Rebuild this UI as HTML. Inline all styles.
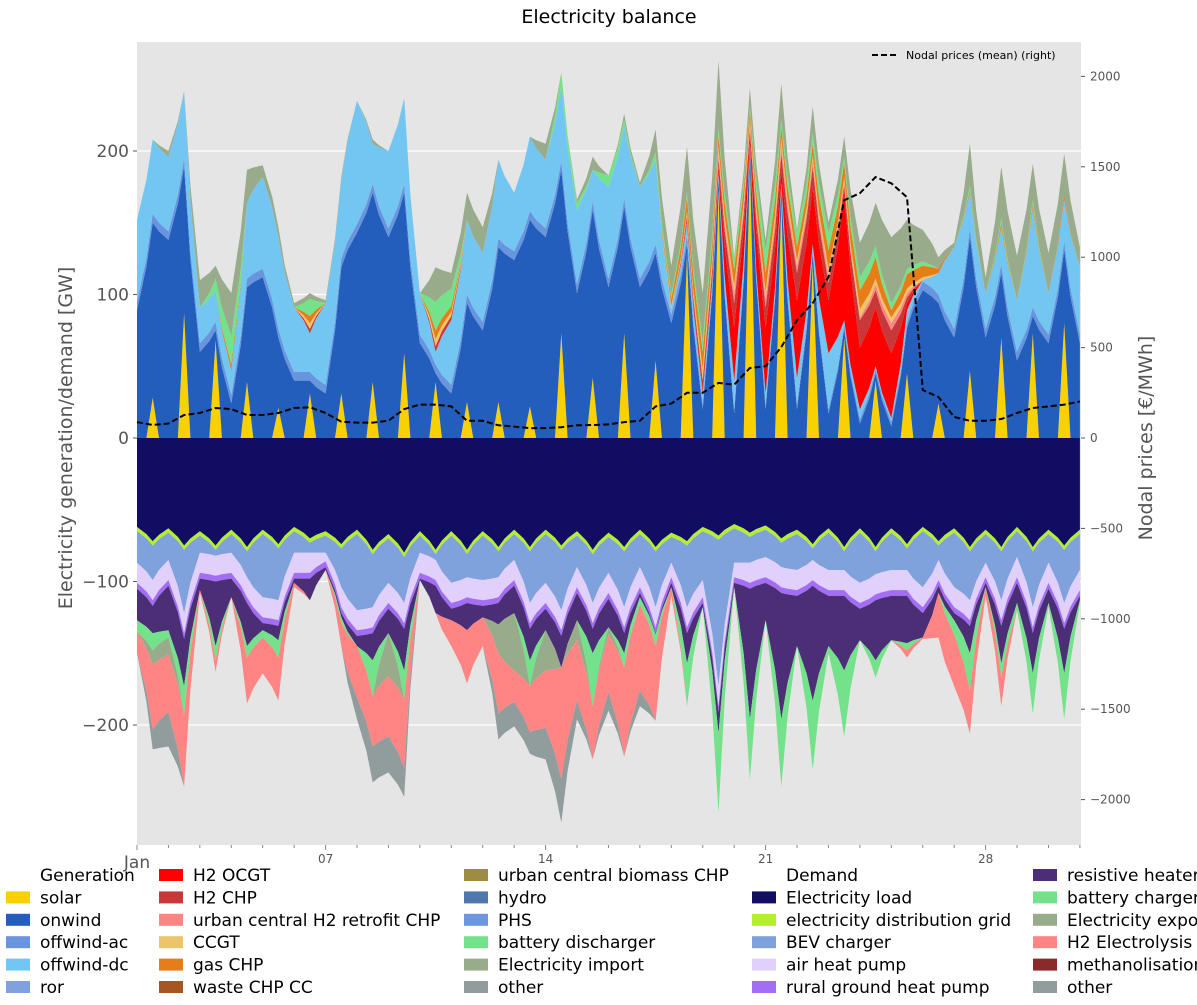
<!DOCTYPE html>
<html><head><meta charset="utf-8">
<style>
html,body{margin:0;padding:0;background:#fff;}
svg{display:block;font-family:"DejaVu Sans","Liberation Sans",sans-serif;}
</style></head>
<body>
<svg id="chart" width="1197" height="1005" viewBox="0 0 1197 1005">
<rect x="137" y="42" width="944" height="803" fill="#e5e5e5"/>
<g id="grid"></g>
<g id="areas"></g>
<g id="priceg"></g>
<g id="axes"></g>
<text x="609" y="23" text-anchor="middle" font-size="19" fill="#000">Electricity balance</text>
<text transform="translate(72,438) rotate(-90)" text-anchor="middle" font-size="19" fill="#555">Electricity generation/demand [GW]</text>
<text transform="translate(1152,438) rotate(-90)" text-anchor="middle" font-size="19" fill="#555">Nodal prices [€/MWh]</text>
<g>
<line x1="872" y1="55" x2="898" y2="55" stroke="#000" stroke-width="2" stroke-dasharray="6,3"/>
<text x="906" y="59" font-size="11" fill="#000">Nodal prices (mean) (right)</text>
</g>
<g id="legend" font-size="17" fill="#000"></g>
</svg>
<script>
const solar=[0,28,0,87,0,68,0,39,0,21,0,31,0,31,0,39,0,59,0,39,0,25,0,25,0,22,0,73,0,42,0,73,0,54,0,129,0,173,0,194,0,166,0,122,0,70,0,40,0,45,0,24,0,47,0,70,0,73,0,80,0];
const onwind=[89,122,138,102,60,7,24,66,112,49,40,9,31,88,143,132,140,112,66,6,31,69,75,108,124,130,140,114,101,117,105,88,105,75,80,6,20,7,17,6,20,6,20,6,17,6,10,5,8,32,103,70,70,93,70,45,54,12,66,51,66];
const offwindAc=[6,6,6,6,6,6,6,6,6,6,6,6,6,6,6,6,6,6,6,6,6,6,6,6,6,6,6,6,6,6,6,6,6,6,6,6,3,3,3,3,3,3,3,3,3,3,3,3,3,3,6,6,6,6,6,6,6,6,6,6,6];
const offwindDc=[57,52,52,47,25,22,17,53,64,64,45,27,57,55,86,28,54,60,29,9,45,52,48,55,41,52,48,52,52,22,64,50,64,59,4,9,8,2,20,2,8,3,19,4,39,3,7,2,3,9,1,15,57,25,25,26,36,69,29,29,47];
const h2Ocgt=[0,0,0,0,0,0,0,0,0,0,0,0,0,0,0,0,0,0,0,0,0,0,0,0,0,0,0,0,0,0,0,0,0,0,0,2,2,5,37,5,46,8,54,40,37,89,43,41,45,5,0,0,0,0,0,0,0,0,0,0,0];
const h2Chp=[0,0,0,0,0,0,0,0,0,0,0,3,0,0,0,0,0,0,0,4,3,0,0,0,0,0,0,0,0,0,0,0,0,0,0,3,7,5,17,5,14,12,19,14,12,5,19,12,16,4,0,0,0,0,0,0,0,0,0,0,0];
const h2Retro=[0,0,0,0,0,0,0,0,0,0,0,0,0,0,0,0,0,0,0,0,0,0,0,0,0,0,0,0,0,0,0,0,0,0,0,0,1,3,7,3,6,6,5,4,5,3,2,4,5,3,0,0,0,0,0,0,0,0,0,0,0];
const ccgt=[0,0,0,0,0,0,0,0,0,0,0,4,0,0,0,0,0,0,0,5,3,0,0,0,0,0,0,0,0,0,0,0,0,0,2,3,7,5,5,4,5,5,4,4,5,3,6,4,4,3,2,0,0,0,0,0,0,0,0,0,0];
const gasChp=[0,0,0,0,0,0,4,0,0,0,0,5,0,0,0,0,0,0,0,6,4,0,0,0,0,0,0,0,0,0,0,0,0,0,5,10,12,8,11,6,13,8,9,8,13,10,13,15,5,10,8,3,0,2,0,3,0,3,0,3,0];
const batteryDis=[0,0,0,0,0,8,20,0,0,0,0,12,0,0,0,0,0,0,0,20,12,0,0,0,0,0,0,10,5,0,8,5,0,5,3,3,7,5,7,3,16,5,10,8,12,4,9,8,5,4,3,0,0,3,0,3,0,3,0,0,0];
const elecImport=[0,0,4,0,19,9,30,23,8,7,3,4,2,2,0,3,0,0,0,24,11,19,18,0,0,0,11,0,2,9,0,4,3,16,20,32,34,47,2,13,7,25,2,18,7,14,24,30,46,34,22,8,3,29,11,36,31,25,28,29,14];

const load=[62,72,63,75,65,75,64,76,64,74,62,70,65,74,64,78,67,80,65,78,65,78,65,76,64,76,64,75,65,78,66,76,64,76,66,72,62,68,60,66,61,70,64,74,63,76,63,76,63,74,62,72,63,76,64,76,62,76,64,75,64];
const distGrid=[3,3,3,3,3,3,3,3,3,3,3,3,3,3,3,3,3,3,3,3,3,3,3,3,3,3,3,3,3,3,3,3,3,3,3,3,3,3,3,3,3,3,3,3,3,3,3,3,3,3,3,3,3,3,3,3,3,3,3,3,3];
const bev=[22,24,19,44,12,4,13,18,44,36,15,7,12,27,53,37,31,32,12,4,33,16,31,18,18,36,34,42,22,34,25,39,23,39,18,43,34,102,24,18,19,17,25,8,26,13,35,16,26,15,39,10,38,34,20,34,18,39,20,37,25];
const airHp=[14,14,14,14,14,14,14,14,14,14,14,14,6,14,14,14,14,14,14,14,14,14,14,14,14,14,14,14,14,14,14,14,14,14,10,14,12,14,10,14,14,14,14,14,14,14,14,14,14,14,14,14,14,14,10,14,14,14,14,14,14];
const ruralHp=[4,4,4,4,4,4,4,4,4,4,4,4,4,4,4,4,4,4,4,4,4,4,4,4,4,4,4,4,4,4,4,4,4,4,4,4,4,4,4,4,4,4,4,4,4,4,4,4,4,4,4,4,4,4,4,4,4,4,4,4,4];
const resistive=[22,19,31,33,8,45,13,30,5,10,3,15,2,3,7,19,17,29,1,19,8,19,8,15,19,22,15,22,19,17,20,14,3,1,3,21,3,15,3,91,26,88,35,80,35,52,22,42,31,33,17,5,5,19,3,26,14,28,10,31,3];
const batteryChg=[8,12,5,20,0,10,0,8,5,12,0,0,0,4,0,25,0,20,0,0,0,0,0,0,0,18,0,0,0,37,0,10,5,8,0,30,0,55,0,42,0,47,0,48,5,46,0,12,0,5,0,0,10,26,0,10,5,28,3,32,2];
const elecExport=[0,10,12,0,0,0,0,0,0,0,0,0,0,0,0,0,30,0,0,0,0,0,0,20,40,0,28,0,14,0,5,0,0,0,0,0,0,0,0,0,0,0,0,0,0,0,0,0,0,0,0,0,0,0,0,0,0,0,0,0,0];
const h2Elec=[15,45,40,50,2,8,0,32,25,30,3,0,0,16,36,35,42,48,0,0,18,37,20,42,22,32,40,78,42,37,40,62,60,52,6,0,0,0,0,0,0,0,0,0,0,0,0,0,0,5,1,31,36,30,6,20,0,0,0,0,0];
const otherDem=[0,14,24,0,0,0,0,0,0,0,0,0,0,0,15,25,25,20,0,0,0,0,0,18,17,15,22,30,13,0,13,0,11,0,0,0,0,0,0,0,0,0,0,0,0,0,0,0,0,0,0,0,0,0,0,0,0,0,0,0,0];

const prices=[88,72,80,127,138,166,160,127,127,138,166,170,138,90,85,85,95,160,185,185,175,95,95,70,63,55,55,60,70,72,75,88,95,175,190,250,250,305,295,387,397,503,652,746,890,1315,1354,1443,1409,1332,265,227,116,95,95,105,138,166,175,185,202];

const leftTicks=[200,100,0,-100,-200];
const rightTicks=[2000,1500,1000,500,0,-500,-1000,-1500,-2000];
const xTickLabels=["Jan","07","14","21","28"];
const xTickDays=[0,6,13,20,27];

const NS="http://www.w3.org/2000/svg";
const X0=137,DAY=31.43,Y0=438,KL=1.435,KR=0.1808;
function xS(t){return X0+t*DAY;}
function yL(v){return Y0-v*KL;}
function yR(p){return Y0-p*KR;}
function mk(tag,attrs,parent){const e=document.createElementNS(NS,tag);for(const k in attrs)e.setAttribute(k,attrs[k]);parent.appendChild(e);return e;}
const N=load.length;

// render sample points: each data point, plus narrow shoulders around noon samples so solar spikes stay narrow
const HW=0.2;
const samples=[]; // {t, i, j, f, shoulder}
for(let i=0;i<N;i++){
  const t=i*0.5;
  if(i%2===1){
    samples.push({t:t-HW,a:i-1,b:i,sh:true});
    samples.push({t:t,a:i,b:i,sh:false});
    if(i+1<N)samples.push({t:t+HW,a:i+1,b:i,sh:true});
  } else samples.push({t:t,a:i,b:i,sh:false});
}
function sampleVal(arr,s,isSolar,isOn){
  if(!s.sh)return arr[s.a];
  if(isSolar)return 0;
  if(isOn)return (arr[s.a]+arr[s.b]+solar[s.b]+solar[s.a])/2;
  return (arr[s.a]+arr[s.b])/2;
}

const grid=document.getElementById('grid');
leftTicks.forEach(v=>{
  const l=mk('line',{x1:137,x2:1081,y1:yL(v),y2:yL(v),stroke:'#fff','stroke-width':1.2},grid);
  
  
});

const areas=document.getElementById('areas');
function stack(list,sign){
  const M=samples.length;
  let base=new Array(M).fill(0);
  list.forEach(s=>{
    const vals=samples.map(sm=>sampleVal(s.vals,sm,s.vals===solar,s.vals===onwind));
    const top=base.map((b,k)=>b+vals[k]);
    let d='';
    for(let k=0;k<M;k++)d+=(k?'L':'M')+xS(samples[k].t).toFixed(1)+','+yL(sign*top[k]).toFixed(1);
    for(let k=M-1;k>=0;k--)d+='L'+xS(samples[k].t).toFixed(1)+','+yL(sign*base[k]).toFixed(1);
    d+='Z';
    const p=mk('path',{d:d,fill:s.c},areas);
    
    
    base=top;
  });
}
stack([
 {n:'solar',vals:solar,c:'#f9d002'},
 {n:'onwind',vals:onwind,c:'#235ebc'},
 {n:'offwind-ac',vals:offwindAc,c:'#6895dd'},
 {n:'offwind-dc',vals:offwindDc,c:'#74c6f2'},
 {n:'h2-ocgt',vals:h2Ocgt,c:'#ff0000'},
 {n:'h2-chp',vals:h2Chp,c:'#c83838'},
 {n:'h2-retrofit-chp',vals:h2Retro,c:'#ff8585'},
 {n:'ccgt',vals:ccgt,c:'#eec46a'},
 {n:'gas-chp',vals:gasChp,c:'#e67d17'},
 {n:'battery-discharger',vals:batteryDis,c:'#74e28a'},
 {n:'electricity-import',vals:elecImport,c:'#98ab8a'}
],1);
stack([
 {n:'electricity-load',vals:load,c:'#110d63'},
 {n:'distribution-grid',vals:distGrid,c:'#b3ee32'},
 {n:'bev-charger',vals:bev,c:'#7fa2dc'},
 {n:'air-heat-pump',vals:airHp,c:'#e0d0fb'},
 {n:'rural-ground-heat-pump',vals:ruralHp,c:'#a36ef5'},
 {n:'resistive-heater',vals:resistive,c:'#4b2e75'},
 {n:'battery-charger',vals:batteryChg,c:'#74e28a'},
 {n:'electricity-export',vals:elecExport,c:'#98ab8a'},
 {n:'h2-electrolysis',vals:h2Elec,c:'#ff8585'},
 {n:'other-demand',vals:otherDem,c:'#919c9c'}
],-1);

const pg=document.getElementById('priceg');
let pd='';
prices.forEach((p,i)=>{pd+=(i?'L':'M')+xS(i*0.5).toFixed(1)+','+yR(p).toFixed(1);});
const pl=mk('path',{d:pd,fill:'none',stroke:'#000','stroke-width':2,'stroke-dasharray':'6,3'},pg);



const ax=document.getElementById('axes');
leftTicks.forEach(v=>{
  const t=mk('text',{x:129,y:yL(v)+6,'text-anchor':'end','font-size':17,fill:'#555'},ax);
  t.textContent=String(v).replace('-','−');
  
  
  mk('line',{x1:133,x2:137,y1:yL(v),y2:yL(v),stroke:'#555'},ax);
});
rightTicks.forEach(v=>{
  const t=mk('text',{x:1090,y:yR(v)+4,'text-anchor':'start','font-size':12,fill:'#555'},ax);
  t.textContent=String(v).replace('-','−');
  
  
  mk('line',{x1:1081,x2:1085,y1:yR(v),y2:yR(v),stroke:'#555'},ax);
});
for(let d=0;d<=30;d++){mk('line',{x1:xS(d),x2:xS(d),y1:845,y2:d%7==6||d==0?850:848,stroke:'#888'},ax);}
xTickLabels.forEach((lab,k)=>{
  const t=mk('text',{x:xS(xTickDays[k]),y:k==0?868:863,'text-anchor':'middle','font-size':k==0?17:12,fill:'#555'},ax);
  t.textContent=lab;
  
  
});

const lg=document.getElementById('legend');
const cols=[
 {px:6,tx:40,items:[['Generation',null],['solar','#f9d002'],['onwind','#235ebc'],['offwind-ac','#6895dd'],['offwind-dc','#74c6f2'],['ror','#7fa2dc']]},
 {px:159,tx:193,items:[['H2 OCGT','#ff0000'],['H2 CHP','#c83838'],['urban central H2 retrofit CHP','#ff8585'],['CCGT','#eec46a'],['gas CHP','#e67d17'],['waste CHP CC','#a65523']]},
 {px:464,tx:498,items:[['urban central biomass CHP','#9e8c41'],['hydro','#5177ad'],['PHS','#6a97dd'],['battery discharger','#74e28a'],['Electricity import','#98ab8a'],['other','#919c9c']]},
 {px:752,tx:786,items:[['Demand',null],['Electricity load','#110d63'],['electricity distribution grid','#b3ee32'],['BEV charger','#7fa2dc'],['air heat pump','#e0d0fb'],['rural ground heat pump','#a36ef5']]},
 {px:1033,tx:1067,items:[['resistive heater','#4b2e75'],['battery charger','#74e28a'],['Electricity export','#98ab8a'],['H2 Electrolysis','#ff8585'],['methanolisation','#8b2a2a'],['other','#919c9c']]}
];
cols.forEach(c=>{
  c.items.forEach((it,r)=>{
    const cy=875+r*22.4;
    const g=mk('g',{},lg);
    
    
    if(it[1])mk('rect',{x:c.px,y:cy-6,width:24,height:12,fill:it[1]},g);
    const t=mk('text',{x:c.tx,y:cy+6,'font-size':17,fill:'#000'},g);
    t.textContent=it[0];
  });
});
</script>
</body></html>
